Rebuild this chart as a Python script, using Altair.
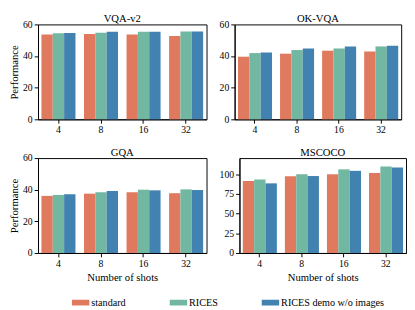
import altair as alt
import pandas as pd

shots = ["4", "8", "16", "32"]
methods = ["standard", "RICES", "RICES demo w/o images"]
colors = ["#E07A5F", "#72B7A1", "#4282B0"]

vqa_standard = [53.6, 53.9, 53.6, 52.7]
vqa_rices = [54.4, 54.8, 55.4, 55.6]
vqa_demo = [54.6, 55.4, 55.4, 55.6]

ok_standard = [39.6, 41.5, 43.4, 42.9]
ok_rices = [41.9, 43.8, 44.8, 46.1]
ok_demo = [42.3, 44.8, 46.1, 46.5]

gqa_standard = [36.1, 37.5, 38.4, 37.8]
gqa_rices = [36.7, 38.4, 40.0, 40.2]
gqa_demo = [37.1, 39.2, 39.6, 39.8]

coco_standard = [91.5, 97.3, 100.0, 101.6]
coco_rices = [93.4, 100.0, 106.2, 109.7]
coco_demo = [88.4, 97.7, 104.3, 108.5]

tasks = {
    "VQA-v2": [vqa_standard, vqa_rices, vqa_demo],
    "OK-VQA": [ok_standard, ok_rices, ok_demo],
    "GQA": [gqa_standard, gqa_rices, gqa_demo],
    "MSCOCO": [coco_standard, coco_rices, coco_demo],
}

rows = []
for task, series in tasks.items():
    for m, vals in zip(methods, series):
        for s, v in zip(shots, vals):
            rows.append({"task": task, "method": m, "shots": s, "value": v})
df = pd.DataFrame(rows)

FONT = "Liberation Serif"
H = 98


def panel(task, ytitle, xtitle, domain, ticks, w, toffset):
    y_axis = alt.Axis(values=ticks, title=ytitle) if ytitle else alt.Axis(values=ticks, title=None)
    x_axis = alt.Axis(title=xtitle, labelAngle=0) if xtitle else alt.Axis(title=None, labelAngle=0)
    return alt.Chart(
        df[df.task == task],
        title=alt.TitleParams(task, font=FONT, fontSize=11, fontWeight="normal",
                              color="black", offset=toffset),
    ).mark_bar().encode(
        x=alt.X("shots:N", sort=shots,
                scale=alt.Scale(paddingInner=0.2, paddingOuter=0.08), axis=x_axis),
        xOffset=alt.XOffset("method:N", sort=methods,
                            scale=alt.Scale(paddingInner=0, paddingOuter=0)),
        y=alt.Y("value:Q", scale=alt.Scale(domain=domain, nice=False), axis=y_axis),
        color=alt.Color("method:N", sort=methods,
                        scale=alt.Scale(domain=methods, range=colors),
                        legend=alt.Legend(title=None, orient="none",
                                          legendX=35, legendY=278,
                                          direction="horizontal", columns=3)),
    ).properties(width=w, height=H)


p1 = panel("VQA-v2", "Performance", None, [0, 60], [0, 20, 40, 60], 174, -5)
p2 = panel("OK-VQA", None, None, [0, 60], [0, 20, 40, 60], 172, -5)
p3 = panel("GQA", "Performance", "Number of shots", [0, 60], [0, 20, 40, 60], 174, -5)
p4 = panel("MSCOCO", None, "Number of shots", [0, 120.5], [0, 25, 50, 75, 100], 172, 0)

chart = alt.vconcat(
    alt.hconcat(p1, p2, spacing=11),
    alt.hconcat(p3, p4, spacing=11),
    spacing=11,
).properties(
    padding={"left": 0, "top": 0, "right": 0, "bottom": 0}
).configure_axis(
    labelFont=FONT, titleFont=FONT, labelFontSize=10, titleFontSize=11,
    titleFontWeight="normal", labelColor="black", titleColor="black",
    domainColor="black", tickColor="black", tickSize=4, grid=False,
    labelPadding=2, titlePadding=3,
).configure_view(
    stroke="black", strokeWidth=1
).configure_legend(
    columnPadding=45,
    labelFont=FONT, labelFontSize=10.5, labelColor="black",
    symbolType="M-1,-0.33H1V0.33H-1Z", symbolSize=324, symbolStrokeWidth=0,
    symbolOpacity=1, labelOffset=2,
)

chart.save("out.html", embed_options={"renderer": "svg", "actions": False})
